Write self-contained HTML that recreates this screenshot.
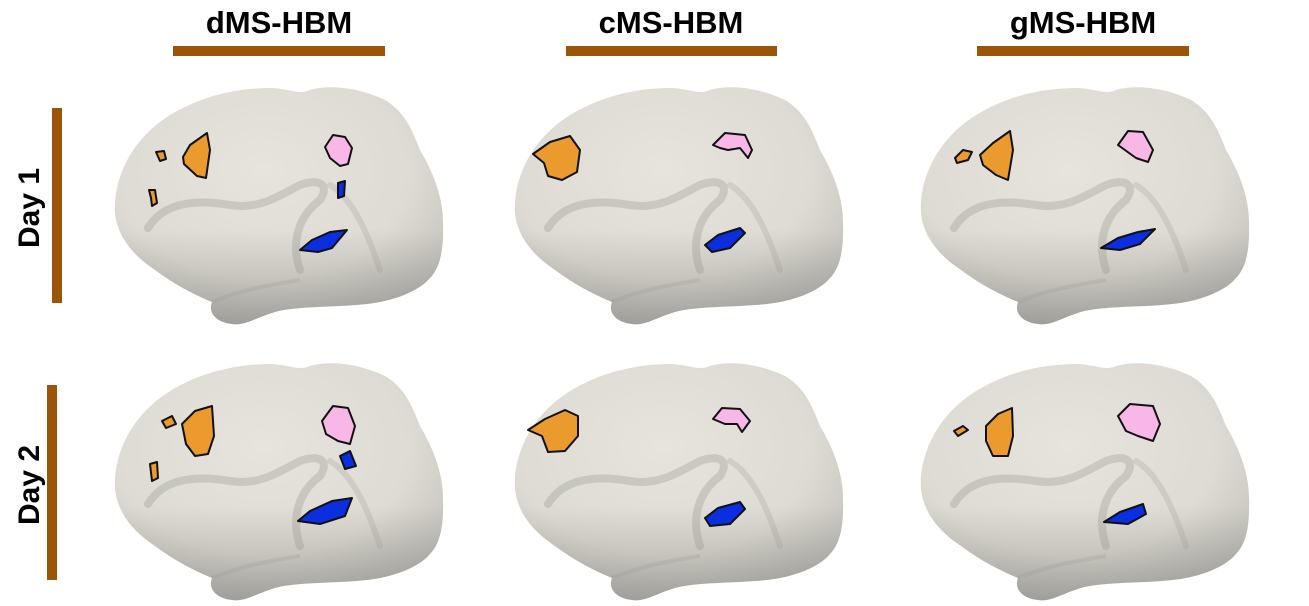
<!DOCTYPE html>
<html><head><meta charset="utf-8"><style>
html,body{margin:0;padding:0;background:#fff;width:1309px;height:606px;overflow:hidden}
svg{display:block}
text{font-family:"Liberation Sans",sans-serif;font-weight:bold;fill:#000}
</style></head><body>
<svg width="1309" height="606" viewBox="0 0 1309 606">
<defs>
<radialGradient id="bg" cx="0.45" cy="0.35" r="0.7">
<stop offset="0" stop-color="#e6e4dd"/><stop offset="0.65" stop-color="#dddbd3"/><stop offset="1" stop-color="#c2c0ba"/>
</radialGradient>
<linearGradient id="sh" x1="0" y1="0" x2="0" y2="1"><stop offset="0.6" stop-color="#000" stop-opacity="0"/><stop offset="1" stop-color="#000" stop-opacity="0.2"/></linearGradient>
<g id="brain" stroke="none">
<path d="M115,213 C113,180 130,140 170,115 C205,94 240,88 272,88 C290,89 300,95 310,90 C330,84 360,88 385,100 C405,112 412,130 420,150 C435,175 443,200 443,222 C444,250 440,268 430,278 C420,290 400,298 380,302 C350,308 300,305 275,312 C255,318 245,326 232,324 C215,322 208,312 212,302 C195,295 175,285 155,270 C132,255 117,235 115,213 Z" fill="url(#bg)"/>
<path d="M115,213 C113,180 130,140 170,115 C205,94 240,88 272,88 C290,89 300,95 310,90 C330,84 360,88 385,100 C405,112 412,130 420,150 C435,175 443,200 443,222 C444,250 440,268 430,278 C420,290 400,298 380,302 C350,308 300,305 275,312 C255,318 245,326 232,324 C215,322 208,312 212,302 C195,295 175,285 155,270 C132,255 117,235 115,213 Z" fill="url(#sh)"/>
<path d="M148,228 C165,200 200,200 230,205 C260,210 280,195 300,185 C320,178 330,185 320,200 C300,215 290,240 300,270" fill="none" stroke="#8f8d88" stroke-width="8" stroke-opacity="0.3" stroke-linecap="round"/>
<path d="M330,185 C355,200 370,240 380,270" fill="none" stroke="#9a9892" stroke-width="6" stroke-opacity="0.25" stroke-linecap="round"/>
<path d="M212,302 C240,290 270,285 300,280" fill="none" stroke="#9a9892" stroke-width="4" stroke-opacity="0.25"/>
</g>
</defs>
<g>
<text x="279" y="33" font-size="31" text-anchor="middle">dMS-HBM</text>
<rect x="173" y="46" width="212" height="10" fill="#9a5508"/>
<text x="671" y="33" font-size="31" text-anchor="middle">cMS-HBM</text>
<rect x="566" y="46" width="211" height="10" fill="#9a5508"/>
<text x="1083" y="33" font-size="31" text-anchor="middle">gMS-HBM</text>
<rect x="977" y="46" width="212" height="10" fill="#9a5508"/>
</g>
<g>
<text transform="translate(39,208) rotate(-90)" font-size="30" text-anchor="middle">Day 1</text>
<rect x="52" y="108" width="10" height="195" fill="#9a5508"/>
<text transform="translate(39,485) rotate(-90)" font-size="30" text-anchor="middle">Day 2</text>
<rect x="47" y="385" width="10" height="195" fill="#9a5508"/>
</g>
<g><use href="#brain"/>
<g stroke="#111" stroke-width="2" stroke-linejoin="round">
<path d="M183,157 L190,145 L207,133 L210,150 L206,178 L197,176 L184,164Z" fill="#eb9a2e"/>
<path d="M156,152 L164,151 L166,159 L160,161Z" fill="#eb9a2e"/>
<path d="M149,190 L155,190 L157,203 L152,206 L151,198Z" fill="#eb9a2e"/>
<path d="M325,147 L333,135 L345,137 L352,148 L348,164 L340,166 L330,158Z" fill="#f8b7e6"/>
<path d="M338,183 L345,181 L344,196 L338,198Z" fill="#0a2ee0"/>
<path d="M300,250 L312,240 L330,232 L347,230 L332,248 L318,252Z" fill="#0a2ee0"/>
</g></g>
<g transform="translate(400,0)"><use href="#brain"/>
<g stroke="#111" stroke-width="2" stroke-linejoin="round">
<path d="M133,154 L150,142 L170,136 L180,150 L177,172 L162,180 L148,176 L144,163Z" fill="#eb9a2e"/>
<path d="M313,145 L325,133 L345,135 L352,150 L348,158 L340,148 L328,150 L320,148Z" fill="#f8b7e6"/>
<path d="M305,245 L318,235 L340,228 L345,233 L330,248 L312,252Z" fill="#0a2ee0"/>
</g></g>
<g transform="translate(806,0)"><use href="#brain"/>
<g stroke="#111" stroke-width="2" stroke-linejoin="round">
<path d="M174,155 L187,143 L204,131 L207,150 L202,180 L190,175 L177,165Z" fill="#eb9a2e"/>
<path d="M149,158 L157,150 L166,152 L162,160 L151,163Z" fill="#eb9a2e"/>
<path d="M312,145 L322,131 L337,132 L347,150 L342,162 L330,158Z" fill="#f8b7e6"/>
<path d="M295,248 L312,238 L332,232 L349,229 L334,244 L314,250Z" fill="#0a2ee0"/>
</g></g>
<g transform="translate(0,276)"><use href="#brain"/>
<g stroke="#111" stroke-width="2" stroke-linejoin="round">
<path d="M182,148 L195,135 L212,130 L214,160 L208,178 L195,180 L186,168Z" fill="#eb9a2e"/>
<path d="M162,145 L172,140 L176,148 L166,152Z" fill="#eb9a2e"/>
<path d="M150,188 L157,186 L158,202 L152,205Z" fill="#eb9a2e"/>
<path d="M322,145 L333,130 L348,132 L355,150 L350,168 L338,165 L326,158Z" fill="#f8b7e6"/>
<path d="M340,180 L350,175 L356,190 L345,193Z" fill="#0a2ee0"/>
<path d="M298,245 L310,235 L332,225 L352,222 L345,240 L320,248Z" fill="#0a2ee0"/>
</g></g>
<g transform="translate(400,276)"><use href="#brain"/>
<g stroke="#111" stroke-width="2" stroke-linejoin="round">
<path d="M128,154 L145,143 L165,134 L178,140 L178,160 L165,175 L148,176 L142,160Z" fill="#eb9a2e"/>
<path d="M313,143 L322,132 L340,133 L350,145 L342,156 L337,148 L325,148Z" fill="#f8b7e6"/>
<path d="M305,242 L318,232 L340,226 L345,233 L330,248 L310,250Z" fill="#0a2ee0"/>
</g></g>
<g transform="translate(806,276)"><use href="#brain"/>
<g stroke="#111" stroke-width="2" stroke-linejoin="round">
<path d="M180,150 L192,138 L206,132 L207,160 L202,180 L187,180 L180,165Z" fill="#eb9a2e"/>
<path d="M148,155 L157,150 L162,154 L152,160Z" fill="#eb9a2e"/>
<path d="M312,140 L324,128 L347,130 L354,148 L347,165 L332,160 L320,155Z" fill="#f8b7e6"/>
<path d="M298,246 L314,236 L337,228 L340,238 L322,248Z" fill="#0a2ee0"/>
</g></g>
</svg>
</body></html>
